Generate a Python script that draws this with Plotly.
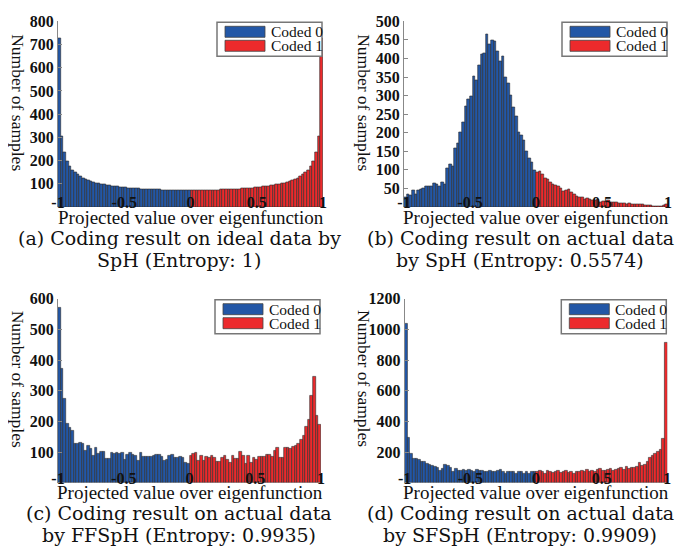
import plotly.graph_objects as go

W, H = 683, 550

# ---------------- data (counts per bin, 100 bins of width 0.02 over [-1, 1]) ----------------
bin_centers = [round(-0.99 + 0.02 * i, 2) for i in range(100)]

ideal_counts = [
    725, 305, 235, 199, 176, 160, 148, 139, 131, 124,
    119, 114, 111, 107, 104, 101, 99, 96, 94, 92,
    91, 89, 88, 86, 85, 84, 82, 82, 81, 80,
    79, 78, 78, 77, 77, 76, 76, 75, 75, 74,
    74, 74, 74, 74, 73, 73, 73, 73, 73, 73,
    73, 73, 73, 73, 73, 73, 74, 74, 74, 74,
    74, 75, 75, 76, 76, 77, 77, 78, 78, 79,
    80, 81, 82, 82, 84, 85, 86, 88, 89, 91,
    92, 94, 96, 99, 101, 104, 107, 111, 114, 119,
    124, 131, 139, 148, 160, 176, 199, 235, 305, 725,
]

sph_counts = [
    25, 35, 32, 45, 33, 44, 47, 50, 55, 57,
    55, 64, 60, 55, 66, 62, 103, 115, 110, 157,
    172, 200, 228, 272, 290, 297, 352, 340, 382, 412,
    415, 465, 437, 450, 447, 420, 392, 405, 350, 332,
    302, 268, 245, 200, 192, 180, 150, 132, 120, 100,
    93, 97, 88, 78, 74, 66, 60, 58, 55, 50,
    42, 46, 48, 40, 33, 30, 27, 25, 22, 24,
    21, 17, 18, 20, 14, 16, 15, 18, 14, 13,
    12, 10, 11, 9, 8, 10, 8, 7, 7, 6,
    6, 5, 5, 4, 3, 3, 3, 3, 4, 6,
]

ffsph_counts = [
    572, 372, 273, 191, 178, 171, 127, 126, 132, 128,
    104, 121, 111, 88, 113, 95, 100, 100, 79, 79,
    99, 96, 97, 95, 99, 76, 91, 97, 90, 88,
    72, 99, 86, 86, 85, 86, 88, 92, 90, 85,
    72, 76, 88, 92, 80, 82, 86, 80, 66, 61,
    89, 93, 97, 72, 88, 72, 84, 80, 89, 83,
    70, 68, 80, 88, 75, 66, 88, 78, 78, 100,
    89, 63, 89, 66, 80, 74, 86, 86, 86, 91,
    91, 86, 104, 113, 80, 80, 115, 115, 112, 117,
    122, 128, 140, 153, 184, 205, 285, 347, 218, 190,
]

sfsph_counts = [
    1035, 296, 187, 157, 154, 150, 135, 139, 122, 117,
    111, 104, 100, 78, 91, 117, 109, 100, 70, 89,
    78, 80, 85, 78, 85, 78, 70, 83, 76, 78,
    70, 70, 78, 74, 70, 80, 85, 74, 59, 74,
    70, 70, 61, 74, 70, 61, 70, 61, 74, 70,
    75, 80, 72, 60, 78, 72, 65, 70, 80, 68,
    70, 78, 68, 75, 60, 72, 75, 80, 70, 88,
    75, 80, 72, 82, 90, 78, 80, 85, 90, 80,
    85, 92, 95, 85, 102, 90, 95, 98, 105, 128,
    112, 118, 140, 160, 175, 188, 200, 215, 288, 910,
]

x_tick_vals = [-1, -0.5, 0, 0.5, 1]
x_tick_text = ["-1", "-0.5", "0", "0.5", "1"]
legend_labels = ["Coded 0", "Coded 1"]
x_title = "Projected value over eigenfunction"
y_title = "Number of samples"

captions = [
    ["(a) Coding result on ideal data by", "SpH (Entropy: 1)"],
    ["(b) Coding result on actual data", "by SpH (Entropy: 0.5574)"],
    ["(c) Coding result on actual data", "by FFSpH (Entropy: 0.9935)"],
    ["(d) Coding result on actual data", "by SFSpH (Entropy: 0.9909)"],
]

# ---------------- styling / layout ----------------
BLUE = "#2357A6"
RED = "#EC2A2C"
EDGE = "#2a2a2a"
SERIF = "Liberation Serif, Times New Roman, serif"
CAP_FONT = "DejaVu Serif, serif"


def px(x):
    return x / W


def py(y):
    return 1 - y / H


panels = [
    dict(counts=ideal_counts, xd=(50, 315), yd=(13.3, 199), ymax=800,
         yticks=[100, 200, 300, 400, 500, 600, 700, 800]),
    dict(counts=sph_counts, xd=(396, 660), yd=(13.3, 199), ymax=500,
         yticks=[50, 100, 150, 200, 250, 300, 350, 400, 450, 500]),
    dict(counts=ffsph_counts, xd=(50, 313), yd=(290.7, 474.7), ymax=600,
         yticks=[100, 200, 300, 400, 500, 600]),
    dict(counts=sfsph_counts, xd=(396.7, 659.3), yd=(290.7, 474.7), ymax=1200,
         yticks=[200, 400, 600, 800, 1000, 1200]),
]

fig = go.Figure()
shapes = []
annotations = []
layout_axes = {}

TICKFONT = dict(family=SERIF, size=16, color="#111", weight="bold")

for i, p in enumerate(panels):
    n = "" if i == 0 else str(i + 1)
    xa, ya = "x" + n, "y" + n
    colors = [BLUE if c < 0 else RED for c in bin_centers]
    fig.add_trace(go.Bar(
        x=bin_centers, y=p["counts"], width=0.02, xaxis=xa, yaxis=ya,
        marker=dict(color=colors, line=dict(color=EDGE, width=0.6)),
        showlegend=False, hoverinfo="x+y",
    ))
    layout_axes["xaxis" + n] = dict(
        domain=[px(p["xd"][0]), px(p["xd"][1])], anchor=ya, range=[-1, 1],
        tickvals=x_tick_vals, ticktext=x_tick_text, showgrid=False, zeroline=False,
        showline=False, ticks="", tickfont=TICKFONT, automargin=False,
        ticklabelstandoff=-16,
    )
    layout_axes["yaxis" + n] = dict(
        domain=[py(p["yd"][1]), py(p["yd"][0])], anchor=xa, range=[0, p["ymax"]],
        tickvals=p["yticks"], showgrid=False, zeroline=False,
        showline=True, linecolor="#888", linewidth=1, ticks="inside", ticklen=4,
        tickcolor="#888", tickfont=TICKFONT, automargin=False,
    )
    x0, x1 = p["xd"]
    y0, y1 = p["yd"]
    # axis titles
    annotations.append(dict(text=x_title, x=px((x0 + x1) / 2), y=py(y1 + 10),
                            xref="paper", yref="paper", showarrow=False,
                            xanchor="center", yanchor="middle",
                            font=dict(family=SERIF, size=19, color="#111")))
    annotations.append(dict(text=y_title, x=px(x0 - 40), y=py((y0 + y1) / 2 - 12),
                            xref="paper", yref="paper", showarrow=False, textangle=90,
                            xanchor="center", yanchor="middle",
                            font=dict(family=SERIF, size=17.5, color="#111")))
    # legend box
    lx1 = x1 - 1
    lx0 = lx1 - 105
    ly0 = y0 + 1
    ly1 = ly0 + 34
    shapes.append(dict(type="rect", xref="paper", yref="paper",
                       x0=px(lx0), x1=px(lx1), y0=py(ly1), y1=py(ly0),
                       fillcolor="white", line=dict(color="#777", width=1.5)))
    for k, (col, lab) in enumerate(zip([BLUE, RED], legend_labels)):
        sy0 = ly0 + 4 + k * 14
        shapes.append(dict(type="rect", xref="paper", yref="paper",
                           x0=px(lx0 + 8), x1=px(lx0 + 48), y0=py(sy0 + 11), y1=py(sy0),
                           fillcolor=col, line=dict(color="#444", width=0.8)))
        annotations.append(dict(text=lab, x=px(lx0 + 52), y=py(sy0 + 5.5),
                                xref="paper", yref="paper", showarrow=False,
                                xanchor="left", yanchor="middle",
                                font=dict(family=SERIF, size=15.5, color="#111")))
    # caption
    cx = 171 if i % 2 == 0 else 512
    cy = 230 if i < 2 else 505
    for k, line in enumerate(captions[i]):
        annotations.append(dict(text=line, x=px(cx), y=py(cy + k * 22),
                                xref="paper", yref="paper", showarrow=False,
                                xanchor="center", yanchor="middle",
                                font=dict(family=CAP_FONT, size=19, color="#111")))

fig.update_layout(
    width=W, height=H, margin=dict(l=0, r=0, t=0, b=0),
    paper_bgcolor="white", plot_bgcolor="white", bargap=0,
    shapes=shapes, annotations=annotations, **layout_axes,
)

fig.write_html("out.html")
